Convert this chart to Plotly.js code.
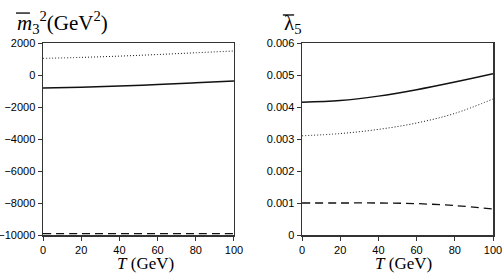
<!DOCTYPE html>
<html><head><meta charset="utf-8">
<script src="https://cdn.plot.ly/plotly-3.0.1.min.js"></script>
<style>body{margin:0;background:#fff}</style>
</head><body>
<div id="chart" style="width:503px;height:273px"></div>
<script>
const T = [0, 20, 40, 60, 80, 100];
// left panel: m3bar^2 (GeV^2)
const m3Solid  = [-810, -760, -690, -600, -490, -370];
const m3Dotted = [1040, 1100, 1180, 1280, 1390, 1500];
const m3Dashed = [-9920, -9920, -9920, -9920, -9920, -9920];
// right panel: lambda5 bar
const l5Solid  = [0.00415, 0.00420, 0.00434, 0.00454, 0.00478, 0.00504];
const l5Dotted = [0.00310, 0.00317, 0.00330, 0.00350, 0.00380, 0.00425];
const l5Dashed = [0.00100, 0.00100, 0.00100, 0.00098, 0.00092, 0.00081];
const xTicks = [0, 20, 40, 60, 80, 100];

const lc = '#111';
function tr(x, y, dash, xa, ya, w) {
  return {x: x, y: y, xaxis: xa, yaxis: ya, mode: 'lines', line: {shape: 'spline', color: lc, width: w, dash: dash}, hoverinfo: 'none'};
}
const data = [
  tr(T, m3Solid, 'solid', 'x', 'y', 1.5),
  tr(T, m3Dotted, '1px,2px', 'x', 'y', 1),
  tr(T, m3Dashed, '8px,5px', 'x', 'y', 1.3),
  tr(T, l5Solid, 'solid', 'x2', 'y2', 1.5),
  tr(T, l5Dotted, '1px,2px', 'x2', 'y2', 1),
  tr(T, l5Dashed, '8px,5px', 'x2', 'y2', 1.3)
];
const SANS = 'Liberation Sans';
const SERIF = 'Liberation Serif';
const tickFont = {family: SANS, size: 11, color: '#000'};
const titleFont = {family: SERIF, size: 17, color: '#000'};
function xa(dom, anchor) {
  return {domain: dom, anchor: anchor, range: [0, 100], tickvals: xTicks, ticks: 'outside', ticklen: 4, tickwidth: 1, tickcolor: '#333',
    showline: true, linecolor: '#333', linewidth: 1.5, mirror: true, showgrid: false, zeroline: false, tickfont: tickFont};
}
function ya(anchor, range, dtick, fmt) {
  return {anchor: anchor, range: range, dtick: dtick, tick0: 0, ticks: 'outside', ticklen: 4, tickwidth: 1, tickcolor: '#333',
    showline: true, linecolor: '#333', linewidth: 1.5, mirror: true, showgrid: false, zeroline: false, tickfont: tickFont,
    tickformat: fmt, separatethousands: false};
}
function bar(x0, x1, y) {
  return {type: 'line', xref: 'paper', yref: 'paper', x0: x0, x1: x1, y0: y, y1: y, line: {color: '#000', width: 1.3}};
}
const layout = {
  width: 503, height: 273,
  margin: {l: 43, r: 10, t: 43, b: 38},
  paper_bgcolor: '#fff', plot_bgcolor: '#fff',
  showlegend: false,
  xaxis: xa([0, 0.4244], 'y'),
  yaxis: ya('x', [-10000, 2000], 2000, 'd'),
  xaxis2: xa([0.5756, 1], 'y2'),
  yaxis2: ya('x2', [0, 0.006], 0.001, ''),
  shapes: [bar(-0.06, -0.029, 1.156), bar(0.533, 0.558, 1.146)],
  annotations: [
    {xref: 'paper', yref: 'paper', x: -0.063, y: 1.0, xanchor: 'left', yanchor: 'bottom', yshift: 4, showarrow: false,
     text: '<i>m</i><sub>3</sub><sup>2</sup>(GeV<sup>2</sup>)', font: {family: SERIF, size: 21, color: '#000'}},
    {xref: 'paper', yref: 'paper', x: 0.531, y: 1.0, xanchor: 'left', yanchor: 'bottom', yshift: 4, showarrow: false,
     text: '\u03bb<sub>5</sub>', font: {family: SERIF, size: 21, color: '#000'}},
    {xref: 'paper', yref: 'paper', x: 0.2267, y: -0.149, xanchor: 'center', yanchor: 'middle', showarrow: false,
     text: '<i>T</i> (GeV)', font: titleFont},
    {xref: 'paper', yref: 'paper', x: 0.801, y: -0.149, xanchor: 'center', yanchor: 'middle', showarrow: false,
     text: '<i>T</i> (GeV)', font: titleFont}
  ]
};
Plotly.newPlot('chart', data, layout, {displayModeBar: false, staticPlot: true});
</script>
</body></html>
